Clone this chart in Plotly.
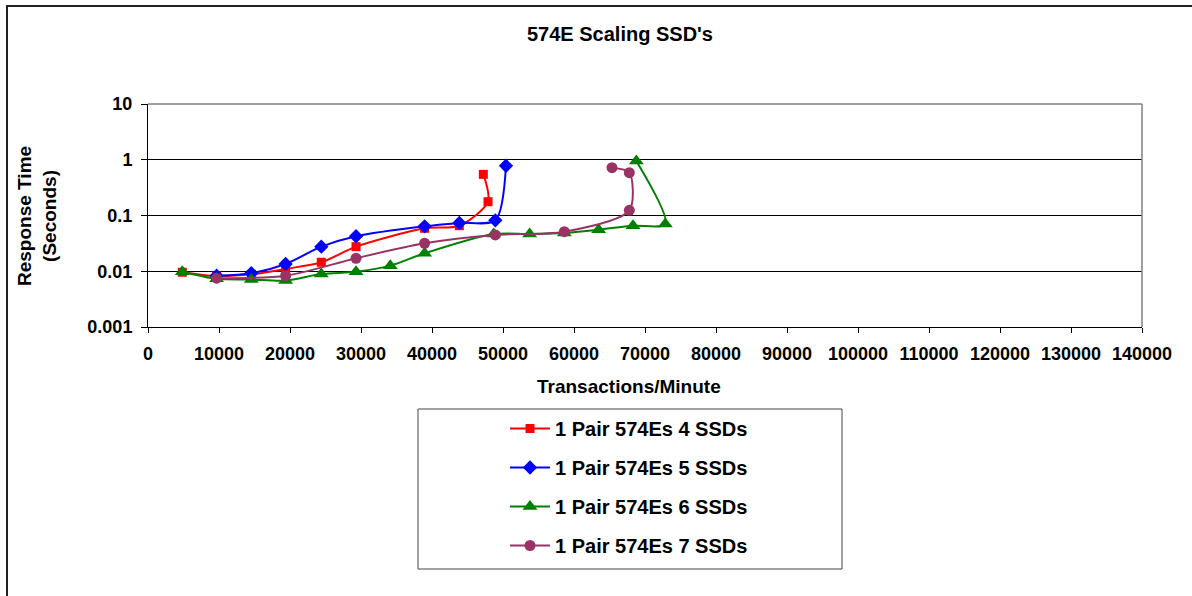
import plotly.graph_objects as go

# ---- data ----
names = ["1 Pair 574Es 4 SSDs", "1 Pair 574Es 5 SSDs",
         "1 Pair 574Es 6 SSDs", "1 Pair 574Es 7 SSDs"]

x4 = [4830, 9660, 14550, 19380, 24410, 29300, 38960, 43850, 47890, 47230]
y4 = [0.0096, 0.0082, 0.0088, 0.011, 0.0145, 0.0276, 0.059, 0.0656, 0.177, 0.547]

x5 = [9660, 14550, 19380, 24410, 29300, 38960, 43850, 48920, 50420]
y5 = [0.0083, 0.0092, 0.0135, 0.0276, 0.0424, 0.064, 0.0735, 0.082, 0.78]

x6 = [4830, 9660, 14550, 19380, 24410, 29300, 34130, 38960, 48680, 53750,
      58640, 63470, 68310, 72860, 68780]
y6 = [0.0098, 0.0073, 0.0071, 0.0068, 0.0089, 0.0098, 0.0126, 0.021, 0.0466, 0.0466,
      0.0485, 0.0557, 0.0656, 0.0705, 0.95]

x7 = [9660, 19380, 29300, 38960, 48920, 58640, 67790, 67790, 65350]
y7 = [0.0075, 0.0083, 0.0171, 0.0318, 0.0448, 0.0513, 0.124, 0.585, 0.72]

x_ticks = list(range(0, 140001, 10000))
y_ticks = [0.001, 0.01, 0.1, 1, 10]
y_tick_text = ["0.001", "0.01", "0.1", "1", "10"]

title_text = "574E Scaling SSD's"
x_title = "Transactions/Minute"
y_title = "Response Time<br>(Seconds)"

# ---- styles ----
colors = ["#FF0000", "#0000FF", "#008000", "#993366"]
symbols = ["square", "diamond", "triangle-up", "circle"]
msizes = [9, 11, 13, 11]

W, H = 1192, 596
# plot area in pixels
L, R, T, B = 148, 1142, 104, 327
def px(x):
    return (x - L) / (R - L)
def py(y):
    return (B - y) / (B - T)

FONT = "Arial, Liberation Sans, sans-serif"

fig = go.Figure()
for i, (xs, ys) in enumerate([(x4, y4), (x5, y5), (x6, y6), (x7, y7)]):
    fig.add_trace(go.Scatter(
        x=xs, y=ys, name=names[i], mode="lines+markers",
        line=dict(color=colors[i], width=2, shape="spline", smoothing=0.8),
        marker=dict(symbol=symbols[i], size=msizes[i], color=colors[i]),
        legendgroup=f"g{i}",
    ))

fig.update_layout(
    width=W, height=H,
    margin=dict(l=L, r=W - R, t=T, b=H - B),
    paper_bgcolor="white", plot_bgcolor="white",
    font=dict(family=FONT, size=18, color="black", weight="bold"),
    showlegend=True,
    legend=dict(
        x=px(505), y=py(409), xanchor="left", yanchor="top",
        bgcolor="rgba(0,0,0,0)", borderwidth=0,
        font=dict(family=FONT, size=20, color="black", weight="bold"),
        tracegroupgap=10, itemwidth=40,
    ),
    xaxis=dict(
        range=[0, 140000], tickvals=x_ticks, ticktext=[str(v) for v in x_ticks],
        showgrid=False, zeroline=False, showline=True, linecolor="black", linewidth=1,
        ticks="outside", ticklen=5, tickcolor="black",
        tickfont=dict(family=FONT, size=18, color="black", weight="bold"),
        ticklabelstandoff=5,
    ),
    yaxis=dict(
        type="log", range=[-3, 1], tickvals=y_ticks, ticktext=y_tick_text,
        showgrid=True, gridcolor="black", gridwidth=1,
        zeroline=False, showline=True, linecolor="black", linewidth=1,
        ticks="outside", ticklen=6, tickcolor="black",
        tickfont=dict(family=FONT, size=18, color="black", weight="bold"),
        ticklabelstandoff=5,
    ),
    annotations=[
        dict(text=title_text, xref="paper", yref="paper", x=px(620), y=py(34),
             xanchor="center", yanchor="middle", showarrow=False,
             font=dict(family=FONT, size=20, color="black", weight="bold")),
        dict(text=x_title, xref="paper", yref="paper", x=px(629), y=py(386),
             xanchor="center", yanchor="middle", showarrow=False,
             font=dict(family=FONT, size=19, color="black", weight="bold")),
        dict(text=y_title, xref="paper", yref="paper", x=px(37), y=py(216),
             xanchor="center", yanchor="middle", showarrow=False, textangle=-90,
             font=dict(family=FONT, size=19, color="black", weight="bold")),
    ],
    shapes=[
        # outer chart border
        dict(type="rect", xref="paper", yref="paper",
             x0=px(7), y0=py(6), x1=px(1300), y1=py(700),
             line=dict(color="#222222", width=2), layer="below"),
        # plot area border (top & right, gray)
        dict(type="line", xref="paper", yref="paper", x0=0, y0=1, x1=1, y1=1,
             line=dict(color="#808080", width=1.5), layer="above"),
        dict(type="line", xref="paper", yref="paper", x0=1, y0=0, x1=1, y1=1,
             line=dict(color="#808080", width=1.5), layer="above"),
        # legend box
        dict(type="rect", xref="paper", yref="paper",
             x0=px(418), y0=py(409), x1=px(842), y1=py(569),
             line=dict(color="#444444", width=1), layer="below"),
    ],
)

fig.write_html(
    "out.html",
    config={"displayModeBar": False},
    post_script="document.body.style.margin='0px';document.body.style.overflow='hidden';",
)
